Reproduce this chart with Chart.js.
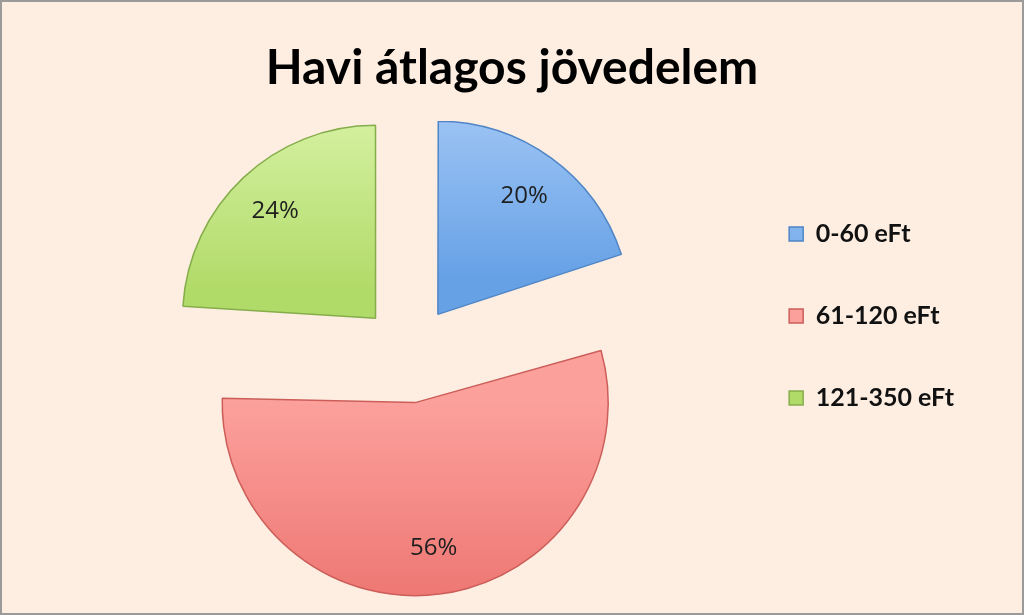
<!DOCTYPE html>
<html>
<head>
<meta charset="utf-8">
<script src="https://cdn.jsdelivr.net/npm/chart.js@4/dist/chart.umd.min.js"></script>
<style>
  html, body { margin: 0; padding: 0; background: #fdeee1; }
  #wrap { width: 1024px; height: 615px; box-sizing: border-box; border: 2px solid #9a9a9a; position: relative; }
</style>
</head>
<body>
<div id="wrap"><canvas id="pieChart"></canvas></div>
<script>
// Havi átlagos jövedelem - exploded pie
const labels = ['0-60 eFt', '61-120 eFt', '121-350 eFt'];
const values = [20, 56, 24];

// [light top, dark bottom, gradient from, gradient to (fraction of chart area)]
const shades = [
  ['#a8cbf7', '#66a1e6', 0.05, 0.43],
  ['#fca09c', '#e96a66', 0.5, 1.0],
  ['#dbf4aa', '#b1db69', 0.06, 0.44]
];
const edges = ['#4f85c6', '#cc5e5a', '#86ad4c'];
const explode = 196; // chart.js draws arcs moved by offset / 4

function sliceFill(ctx) {
  const s = shades[ctx.dataIndex];
  const area = ctx.chart.chartArea;
  if (!area) return s[1];
  const g = ctx.chart.ctx.createLinearGradient(0, area.top, 0, area.bottom);
  g.addColorStop(s[2], s[0]);
  g.addColorStop(s[3], s[1]);
  return g;
}

// keep the big slice the same radius as the others when it is pulled out
const evenRadius = {
  id: 'evenRadius',
  afterDatasetUpdate(chart, args) {
    args.meta.data.forEach(arc => {
      const off = (arc.options.offset || 0) / 4;
      const fix = 1 - Math.sin(Math.min(Math.PI, arc.circumference));
      arc.outerRadius -= off * fix;
    });
  }
};

// percent labels inside the slices
const pctLabels = {
  id: 'pctLabels',
  afterDatasetsDraw(chart) {
    const meta = chart.getDatasetMeta(0);
    const total = values.reduce((a, b) => a + b, 0);
    const g = chart.ctx;
    g.save();
    g.font = '24px "Open Sans", sans-serif';
    g.fillStyle = '#1e1e1e';
    g.textAlign = 'center';
    g.textBaseline = 'middle';
    meta.data.forEach((arc, i) => {
      const off = arc.options.offset / 4;
      const fix = 1 - Math.sin(Math.min(Math.PI, arc.circumference));
      const r = arc.outerRadius + off * fix;
      const mid = (arc.startAngle + arc.endAngle) / 2;
      const d = off + r * 0.76;
      g.fillText(Math.round(values[i] / total * 100) + '%', arc.x + Math.cos(mid) * d, arc.y + Math.sin(mid) * d);
    });
    g.restore();
  }
};

new Chart(document.getElementById('pieChart'), {
  type: 'pie',
  data: {
    // one-line arrays so the legend rows take the font lineHeight
    labels: labels.map(l => [l]),
    datasets: [{
      data: values,
      backgroundColor: sliceFill,
      borderColor: edges,
      borderWidth: 1.5,
      offset: explode
    }]
  },
  options: {
    responsive: true,
    maintainAspectRatio: false,
    animation: false,
    radius: 193,
    layout: { padding: { left: 58, right: 58, top: 43, bottom: 0 } },
    plugins: {
      tooltip: { enabled: false },
      title: {
        display: true,
        text: 'Havi átlagos jövedelem',
        color: '#000',
        font: { family: 'Lato', size: 48, weight: 'bold', lineHeight: 1 },
        padding: { top: 0, bottom: 2 }
      },
      legend: {
        position: 'right',
        labels: {
          color: '#111',
          font: { family: 'Lato', size: 25, weight: 'bold', lineHeight: 2.04 },
          boxWidth: 14,
          boxHeight: 14,
          padding: 31
        }
      }
    }
  },
  plugins: [evenRadius, pctLabels]
});
</script>
</body>
</html>
